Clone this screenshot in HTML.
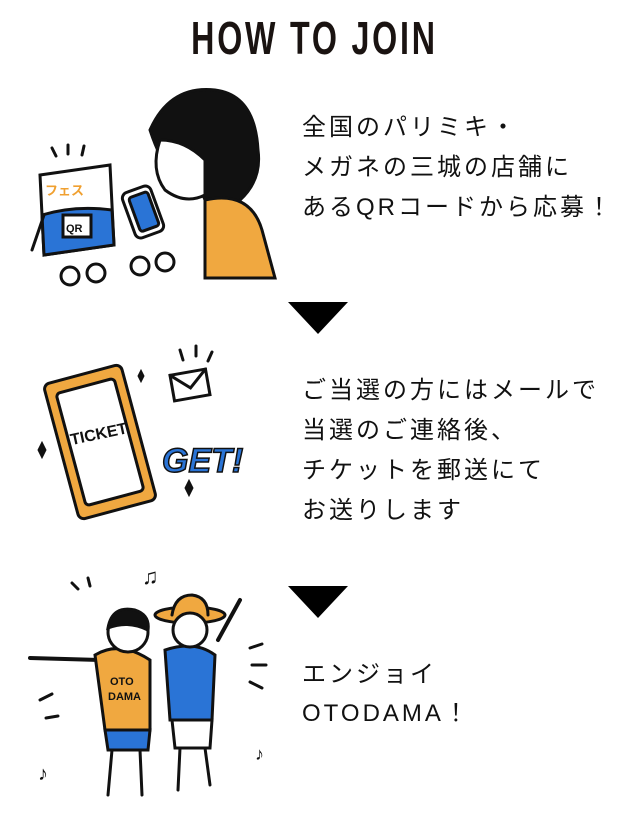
<!DOCTYPE html>
<html><head><meta charset="utf-8"><style>
html,body{margin:0;padding:0;background:#fff;}
body{width:629px;height:814px;position:relative;overflow:hidden;font-family:"Liberation Sans","Noto Sans CJK JP",sans-serif;color:#111;}
.title{position:absolute;left:0;width:629px;top:12px;text-align:center;font-family:"Liberation Sans",sans-serif;font-weight:bold;font-size:46px;letter-spacing:4px;line-height:52px;transform:scale(0.7,1.0);color:#1a1311;}
.t{position:absolute;left:302px;font-size:24px;letter-spacing:3px;line-height:40px;white-space:nowrap;}
.tri{position:absolute;width:0;height:0;border-left:30px solid transparent;border-right:30px solid transparent;border-top:32px solid #000;}
svg{position:absolute;left:0;top:0;}
</style></head><body>
<div class="title">HOW TO JOIN</div>
<svg width="629" height="814" viewBox="0 0 629 814" fill="none" stroke="#111" stroke-width="3" stroke-linecap="round">
<path d="M40 175 L110 165 L114 245 L44 255 Z" fill="#fff"/>
<path d="M42 215 Q75 205 112 210 L114 245 L44 255 Z" fill="#2a74d6"/>
<rect x="63" y="215" width="28" height="22" fill="#fff"/>
<text x="66" y="232" font-size="11" font-weight="bold" fill="#111" stroke="none">QR</text>
<text x="45" y="195" font-size="13" font-weight="bold" fill="#f0a030" stroke="none">フェス</text>
<path d="M52 148 l4 8 M68 145 l0 9 M84 146 l-2 9"/>
<path d="M32 250 L44 215"/>
<circle cx="70" cy="276" r="9"/><circle cx="96" cy="273" r="9"/>
<circle cx="140" cy="266" r="9"/><circle cx="165" cy="262" r="9"/>
<path d="M150 130 Q170 85 215 90 Q255 95 258 150 Q262 180 240 200 L205 200 Q190 160 170 170 Q160 160 150 130 Z" fill="#111"/>
<path d="M160 140 Q150 170 165 190 Q185 205 205 195 L205 160 Q185 140 160 140 Z" fill="#fff"/>
<path d="M205 200 Q250 190 262 230 L275 278 L205 278 Z" fill="#f0a840"/>
<rect x="128" y="188" width="30" height="48" rx="6" transform="rotate(-20 143 212)" fill="#fff"/>
<rect x="134" y="194" width="20" height="36" rx="3" transform="rotate(-20 143 212)" fill="#2a74d6"/>
<rect x="60" y="372" width="80" height="140" rx="6" transform="rotate(-15 100 442)" fill="#f0a840"/>
<rect x="70" y="384" width="60" height="116" rx="4" transform="rotate(-15 100 442)" fill="#fff"/>
<text x="70" y="440" font-size="16" font-weight="bold" fill="#111" stroke="none" transform="rotate(-12 95 435)">TICKET</text>
<rect x="172" y="372" width="36" height="26" transform="rotate(-10 190 385)" fill="#fff"/>
<path d="M172 372 L190 388 L208 372" transform="rotate(-10 190 385)"/>
<path d="M180 350 l3 10 M196 346 l0 10 M212 352 l-4 9"/>
<text x="162" y="472" font-size="34" font-weight="bold" fill="#2a74d6" stroke="#111" stroke-width="1.5" font-style="italic">GET!</text>
<path d="M38 450 l4 -8 4 8 -4 8 z M185 488 l4 -8 4 8 -4 8 z M138 376 l3 -6 3 6 -3 6 z" fill="#111" stroke-width="1"/>
<path d="M30 658 L100 660 M218 640 L240 600" stroke-width="4"/>
<path d="M95 655 Q120 640 150 660 L150 730 L105 730 Z" fill="#f0a840"/>
<path d="M165 650 Q195 640 215 655 L212 720 L170 720 Z" fill="#2a74d6"/>
<path d="M105 730 L150 730 L148 750 L108 750 Z" fill="#2a74d6"/>
<path d="M172 720 L212 720 L210 748 L175 748 Z" fill="#fff"/>
<path d="M112 750 L108 795 M140 750 L142 795 M180 748 L178 790 M205 748 L210 785"/>
<circle cx="128" cy="632" r="20" fill="#fff"/>
<path d="M108 628 Q112 605 135 610 Q150 615 148 630 Q128 620 108 628 Z" fill="#111"/>
<ellipse cx="190" cy="615" rx="35" ry="8" fill="#f0a840"/>
<path d="M172 615 Q175 595 192 595 Q208 597 208 615" fill="#f0a840"/>
<circle cx="190" cy="630" r="17" fill="#fff"/>
<text x="110" y="685" font-size="11" font-weight="bold" fill="#111" stroke="none">OTO</text>
<text x="108" y="700" font-size="11" font-weight="bold" fill="#111" stroke="none">DAMA</text>
<text x="142" y="584" font-size="22" fill="#111" stroke="none">♫</text>
<text x="38" y="780" font-size="20" fill="#111" stroke="none">♪</text>
<text x="255" y="760" font-size="18" fill="#111" stroke="none">♪</text>
<path d="M72 583 l6 6 M88 578 l2 8 M250 648 l12 -4 M252 665 l14 0 M250 682 l12 6 M40 700 l12 -6 M46 718 l12 -2"/>
</svg>
<div class="t" style="top:108px">全国のパリミキ・</div>
<div class="t" style="top:148px">メガネの三城の店舗に</div>
<div class="t" style="top:188px">あるQRコードから応募！</div>
<div class="tri" style="left:288px;top:302px"></div>
<div class="t" style="top:371px">ご当選の方にはメールで</div>
<div class="t" style="top:411px">当選のご連絡後、</div>
<div class="t" style="top:451px">チケットを郵送にて</div>
<div class="t" style="top:491px">お送りします</div>
<div class="tri" style="left:288px;top:586px"></div>
<div class="t" style="top:655px">エンジョイ</div>
<div class="t" style="top:694px">OTODAMA！</div>
</body></html>
